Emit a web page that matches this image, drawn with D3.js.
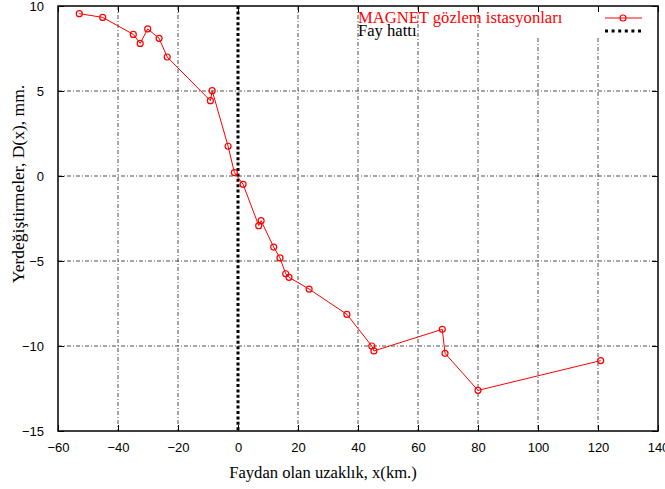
<!DOCTYPE html>
<html>
<head>
<meta charset="utf-8">
<script src="https://cdn.jsdelivr.net/npm/d3@7"></script>
<style>
  html, body { margin: 0; padding: 0; background: #fff; }
  svg { display: block; }
</style>
</head>
<body>
<svg id="chart" width="665" height="489"></svg>
<script>
// MAGNET station positions (km from fault) and displacements (mm)
const stationX = [-52.9, -45.1, -34.9, -32.6, -30.1, -26.3, -23.6, -9.2, -8.6, -3.3, -1.2, 1.7,
                  6.9, 7.7, 11.9, 14.0, 15.9, 17.0, 23.7, 36.3, 44.6, 45.3, 68.1, 69.0, 80.0, 120.9];
const stationD = [9.55, 9.33, 8.33, 7.8, 8.65, 8.1, 7.0, 4.43, 5.02, 1.75, 0.2, -0.49,
                  -2.92, -2.63, -4.18, -4.82, -5.75, -5.96, -6.65, -8.14, -10.0, -10.29, -9.02, -10.43, -12.61, -10.86];
const faultX = 0;
const xTicks = [-60, -40, -20, 0, 20, 40, 60, 80, 100, 120, 140];
const yTicks = [-15, -10, -5, 0, 5, 10];
const seriesLabels = ["MAGNET gözlem istasyonları", "Fay hattı"];

const svg = d3.select("#chart");
const plotL = 58, plotR = 658, plotT = 6, plotB = 431;

const x = d3.scaleLinear().domain([-60, 140]).range([plotL, plotR]);
const y = d3.scaleLinear().domain([-15, 10]).range([plotB, plotT]);

const gridStyle = g => g.attr("stroke", "#222").attr("stroke-width", 0.8)
  .attr("stroke-dasharray", "4,2,1,2").attr("fill", "none");

// grid
const grid = svg.append("g");
xTicks.filter(t => t > -60 && t < 140 && t !== 0).forEach(t => {
  grid.append("line")
    .attr("x1", x(t)).attr("x2", x(t))
    .attr("y1", t >= 100 ? 38 : plotT).attr("y2", plotB)
    .call(gridStyle);
});
yTicks.filter(t => t > -15 && t < 10).forEach(t => {
  grid.append("line")
    .attr("x1", plotL).attr("x2", plotR)
    .attr("y1", y(t)).attr("y2", y(t))
    .call(gridStyle);
});

// axes with inward ticks on all four sides
const fmt = d3.format("d");
const xb = svg.append("g").attr("transform", `translate(0,${plotB})`)
  .call(d3.axisBottom(x).tickValues(xTicks).tickSizeInner(-6).tickSizeOuter(0).tickPadding(12).tickFormat(fmt));
const xt = svg.append("g").attr("transform", `translate(0,${plotT})`)
  .call(d3.axisTop(x).tickValues(xTicks).tickSizeInner(-6).tickSizeOuter(0).tickFormat(""));
const yl = svg.append("g").attr("transform", `translate(${plotL},0)`)
  .call(d3.axisLeft(y).tickValues(yTicks).tickSizeInner(-6).tickSizeOuter(0).tickPadding(14).tickFormat(fmt));
const yr = svg.append("g").attr("transform", `translate(${plotR},0)`)
  .call(d3.axisRight(y).tickValues(yTicks).tickSizeInner(-6).tickSizeOuter(0).tickFormat(""));
[xb, xt, yl, yr].forEach(g => {
  g.select(".domain").remove();
  g.selectAll("text").attr("font-family", "Liberation Sans, Arial, sans-serif")
    .attr("font-size", 13).attr("fill", "#000");
  g.selectAll("line").attr("stroke", "#000");
});
xb.selectAll("text").attr("dy", "0.71em");

// fault line
svg.append("line")
  .attr("x1", x(faultX)).attr("x2", x(faultX))
  .attr("y1", plotT).attr("y2", plotB)
  .attr("stroke", "#000").attr("stroke-width", 3).attr("stroke-dasharray", "3,2.4");

// station series
const pts = stationX.map((v, i) => [v, stationD[i]]);
svg.append("path")
  .datum(pts)
  .attr("d", d3.line().x(d => x(d[0])).y(d => y(d[1])))
  .attr("fill", "none").attr("stroke", "#ff0000").attr("stroke-width", 1);
svg.append("g").selectAll("circle").data(pts).join("circle")
  .attr("cx", d => x(d[0])).attr("cy", d => y(d[1])).attr("r", 3)
  .attr("fill", "none").attr("stroke", "#ff0000").attr("stroke-width", 1.2);

// border
svg.append("rect")
  .attr("x", plotL).attr("y", plotT).attr("width", plotR - plotL).attr("height", plotB - plotT)
  .attr("fill", "none").attr("stroke", "#000").attr("stroke-width", 1.5);

// legend
const serif = "Liberation Serif, Times New Roman, serif";
svg.append("text").attr("x", 358).attr("y", 23).text(seriesLabels[0])
  .attr("font-family", serif).attr("font-size", 16.6).attr("fill", "#ff0000");
svg.append("text").attr("x", 358).attr("y", 36).text(seriesLabels[1])
  .attr("font-family", serif).attr("font-size", 16.6).attr("fill", "#000");
svg.append("line").attr("x1", 605).attr("x2", 642).attr("y1", 18).attr("y2", 18)
  .attr("stroke", "#ff0000").attr("stroke-width", 1);
svg.append("circle").attr("cx", 623).attr("cy", 18).attr("r", 3)
  .attr("fill", "none").attr("stroke", "#ff0000").attr("stroke-width", 1.2);
svg.append("line").attr("x1", 605).attr("x2", 642).attr("y1", 31).attr("y2", 31)
  .attr("stroke", "#000").attr("stroke-width", 3).attr("stroke-dasharray", "3,3.6");

// axis titles
svg.append("text").attr("x", 323).attr("y", 478).attr("text-anchor", "middle")
  .attr("font-family", serif).attr("font-size", 16.6).attr("fill", "#000")
  .text("Faydan olan uzaklık, x(km.)");
svg.append("text").attr("transform", "translate(24,184) rotate(-90)").attr("text-anchor", "middle")
  .attr("font-family", serif).attr("font-size", 17.5).attr("fill", "#000")
  .text("Yerdeğiştirmeler, D(x), mm.");
</script>
</body>
</html>
